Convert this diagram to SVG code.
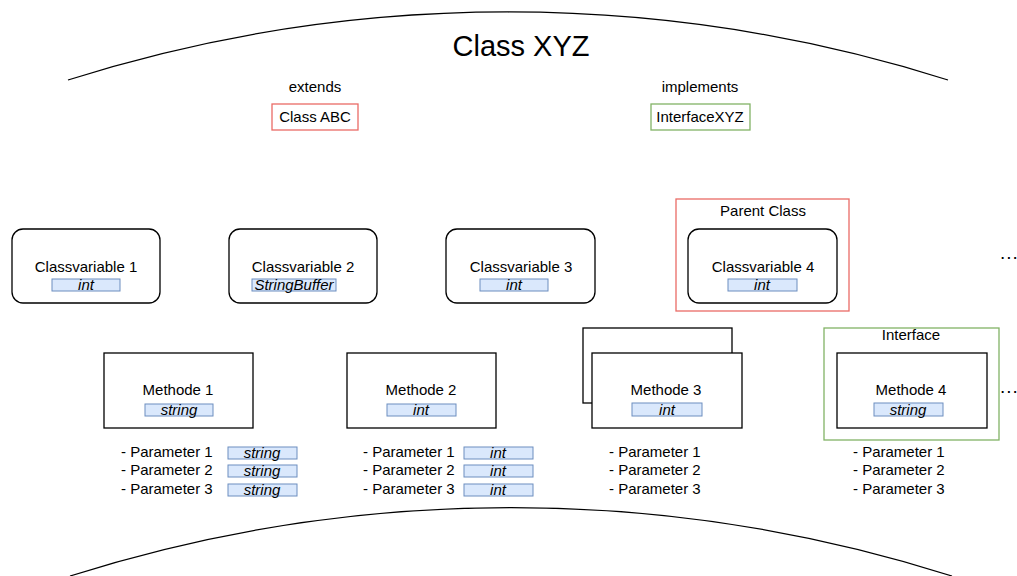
<svg xmlns="http://www.w3.org/2000/svg" width="1017" height="576" viewBox="0 0 1017 576">
<style>
text{font-family:"Liberation Sans",Arial,sans-serif;font-size:15px;fill:#000;text-anchor:middle;dominant-baseline:central}
.l{text-anchor:start}
.t{font-style:italic}
.dots{text-anchor:start;dominant-baseline:alphabetic;font-size:19px;letter-spacing:1px}
.cv{fill:#fff;stroke:#000;stroke-width:1.3}
.m{fill:#fff;stroke:#000;stroke-width:1.3}
.ty{fill:#dae8fc;stroke:#6c8ebf;stroke-width:1}
.red{fill:none;stroke:#ea6b66;stroke-width:1.3}
.grn{fill:none;stroke:#82b366;stroke-width:1.3}
.arc{fill:none;stroke:#000;stroke-width:1.3}
</style>
<g id="connectors"></g>
<g id="class-arc">
<path class="arc" d="M68,80 A1457,1457 0 0 1 948,80"/>
<text x="521" y="46" style="font-size:29px">Class XYZ</text>
</g>
<g id="extends">
<text x="315" y="86">extends</text>
<rect class="red" x="272" y="104" width="86" height="26"/>
<text x="315" y="116.5">Class ABC</text>
</g>
<g id="implements">
<text x="700" y="86">implements</text>
<rect class="grn" x="651" y="104" width="99" height="26"/>
<text x="700" y="116.5">InterfaceXYZ</text>
</g>
<g id="cv1">
<rect class="cv" x="12" y="229" width="148" height="74" rx="11"/>
<text x="86" y="266">Classvariable 1</text>
<rect class="ty" x="52" y="279" width="68" height="12"/>
<text class="t" x="86" y="284.5">int</text>
</g>
<g id="cv2">
<rect class="cv" x="229" y="229" width="148" height="74" rx="11"/>
<text x="303" y="266">Classvariable 2</text>
<rect class="ty" x="252" y="279" width="84" height="12"/>
<text class="t" x="294" y="284.5">StringBuffer</text>
</g>
<g id="cv3">
<rect class="cv" x="446" y="229" width="149" height="74" rx="11"/>
<text x="521" y="266">Classvariable 3</text>
<rect class="ty" x="480" y="279" width="68" height="12"/>
<text class="t" x="514" y="284.5">int</text>
</g>
<g id="parent">
<rect class="red" x="676" y="199" width="173" height="112"/>
<text x="763" y="210">Parent Class</text>
</g>
<g id="cv4">
<rect class="cv" x="688" y="229" width="149" height="74" rx="11"/>
<text x="763" y="266">Classvariable 4</text>
<rect class="ty" x="728" y="279" width="69" height="12"/>
<text class="t" x="762" y="284.5">int</text>
</g>
<g id="dots1"><text class="dots" x="1000" y="259">...</text></g>
<g id="m1">
<rect class="m" x="104" y="353" width="149" height="75"/>
<text x="178" y="389">Methode 1</text>
<rect class="ty" x="145" y="404" width="68" height="12"/>
<text class="t" x="179" y="409.5">string</text>
</g>
<g id="m1p">
<text class="l" x="121" y="451">- Parameter 1</text>
<text class="l" x="121" y="469">- Parameter 2</text>
<text class="l" x="121" y="488">- Parameter 3</text>
<rect class="ty" x="228" y="447" width="69" height="12"/>
<text class="t" x="262" y="452.5">string</text>
<rect class="ty" x="228" y="465" width="69" height="12"/>
<text class="t" x="262" y="470.5">string</text>
<rect class="ty" x="228" y="484" width="69" height="12"/>
<text class="t" x="262" y="489.5">string</text>
</g>
<g id="m2">
<rect class="m" x="347" y="353" width="149" height="75"/>
<text x="421" y="389">Methode 2</text>
<rect class="ty" x="387" y="404" width="69" height="12"/>
<text class="t" x="421" y="409.5">int</text>
</g>
<g id="m2p">
<text class="l" x="363" y="451">- Parameter 1</text>
<text class="l" x="363" y="469">- Parameter 2</text>
<text class="l" x="363" y="488">- Parameter 3</text>
<rect class="ty" x="464" y="447" width="69" height="12"/>
<text class="t" x="498" y="452.5">int</text>
<rect class="ty" x="464" y="465" width="69" height="12"/>
<text class="t" x="498" y="470.5">int</text>
<rect class="ty" x="464" y="484" width="69" height="12"/>
<text class="t" x="498" y="489.5">int</text>
</g>
<g id="m3">
<rect class="m" x="583" y="328" width="149" height="75"/>
<rect class="m" x="592" y="353" width="150" height="75"/>
<text x="666" y="389">Methode 3</text>
<rect class="ty" x="632" y="403" width="70" height="13"/>
<text class="t" x="667" y="409">int</text>
</g>
<g id="m3p">
<text class="l" x="609" y="451">- Parameter 1</text>
<text class="l" x="609" y="469">- Parameter 2</text>
<text class="l" x="609" y="488">- Parameter 3</text>
</g>
<g id="interface">
<rect class="grn" x="824" y="328" width="175" height="112"/>
<text x="911" y="334">Interface</text>
</g>
<g id="m4">
<rect class="m" x="837" y="353" width="150" height="75"/>
<text x="911" y="389">Methode 4</text>
<rect class="ty" x="874" y="403" width="69" height="13"/>
<text class="t" x="908" y="409">string</text>
</g>
<g id="m4p">
<text class="l" x="853" y="451">- Parameter 1</text>
<text class="l" x="853" y="469">- Parameter 2</text>
<text class="l" x="853" y="488">- Parameter 3</text>
</g>
<g id="dots2"><text class="dots" x="1000" y="393">...</text></g>
<g id="bottom-arc">
<path class="arc" d="M70,576 A1457,1457 0 0 1 952,576"/>
</g>
</svg>
